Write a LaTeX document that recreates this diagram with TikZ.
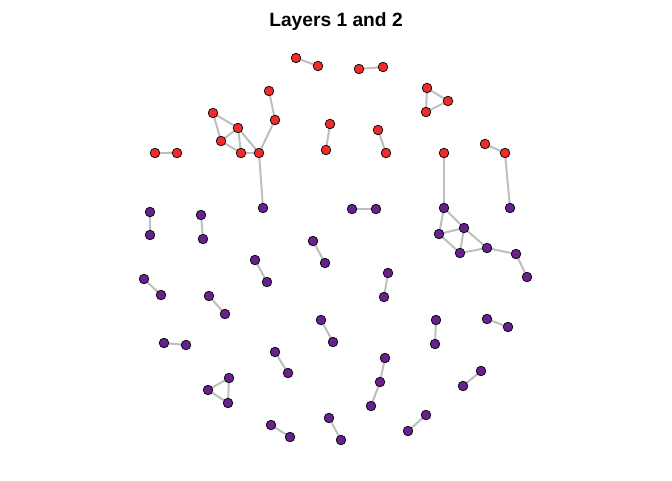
\documentclass[tikz,border=0pt]{standalone}
\usepackage{fontspec}
\setmainfont{Liberation Sans}
\usetikzlibrary{backgrounds}
\definecolor{nred}{HTML}{EE2C2C}
\definecolor{npur}{HTML}{68208E}
\definecolor{egray}{HTML}{BEBEBE}
\begin{document}
\begin{tikzpicture}[x=1pt,y=-1pt,
  rn/.style={circle,draw=black,line width=0.7pt,fill=nred,minimum size=9.6pt,inner sep=0pt},
  pn/.style={circle,draw=black,line width=0.7pt,fill=npur,minimum size=9.6pt,inner sep=0pt},
  ed/.style={draw=egray,line width=2pt}]
\useasboundingbox (0,0) rectangle (672,480);
\node[font=\bfseries\fontsize{19.2}{20}\selectfont,anchor=base] (title) at (336,26.5) {Layers 1 and 2};
% red layer
\foreach \n/\x/\y in {r1/296/58, r2/318/66, r3/359/69, r4/383/67, r5/427/88, r6/448/101, r7/426/112,
  r8/269/91, r9/275/120, r10/213/113, r11/238/128, r12/221/141, r13/241/153, r14/259/153,
  r15/155/153, r16/177/153, r17/330/124, r18/326/150, r19/378/130, r20/386/153, r21/444/153,
  r22/485/144, r23/505/153}
  \node[rn] (\n) at (\x,\y) {};
% purple layer
\foreach \n/\x/\y in {p1/263/208, p2/444/208, p3/510/208, p4/352/209, p5/376/209,
  p6/464/228, p7/439/234, p8/460/253, p9/487/248, p10/516/254, p11/527/277,
  p12/150/212, p13/150/235, p14/201/215, p15/203/239, p16/313/241, p17/325/263,
  p18/255/260, p19/267/282, p20/144/279, p21/161/295, p22/209/296, p23/225/314,
  p24/388/273, p25/384/297, p26/321/320, p27/333/342, p28/436/320, p29/435/344,
  p30/487/319, p31/508/327, p32/164/343, p33/186/345, p34/275/352, p35/288/373,
  p36/229/378, p37/208/390, p38/228/403, p39/385/358, p40/380/382, p41/371/406,
  p42/481/371, p43/463/386, p44/271/425, p45/290/437, p46/329/418, p47/341/440,
  p48/426/415, p49/408/431}
  \node[pn] (\n) at (\x,\y) {};
\begin{scope}[on background layer]
\foreach \a/\b in {r1/r2, r3/r4, r5/r6, r6/r7, r7/r5, r8/r9, r9/r14,
  r10/r11, r10/r12, r12/r11, r12/r13, r11/r13, r11/r14, r13/r14,
  r15/r16, r17/r18, r19/r20, r22/r23,
  r14/p1, r21/p2, r23/p3,
  p4/p5, p2/p6, p2/p7, p7/p6, p7/p8, p6/p8, p6/p9, p8/p9, p9/p10, p10/p11,
  p12/p13, p14/p15, p16/p17, p18/p19, p20/p21, p22/p23, p24/p25, p26/p27,
  p28/p29, p30/p31, p32/p33, p34/p35, p36/p37, p37/p38, p38/p36,
  p39/p40, p40/p41, p42/p43, p44/p45, p46/p47, p48/p49}
  \draw[ed] (\a.center) -- (\b.center);
\end{scope}
\end{tikzpicture}
\end{document}
